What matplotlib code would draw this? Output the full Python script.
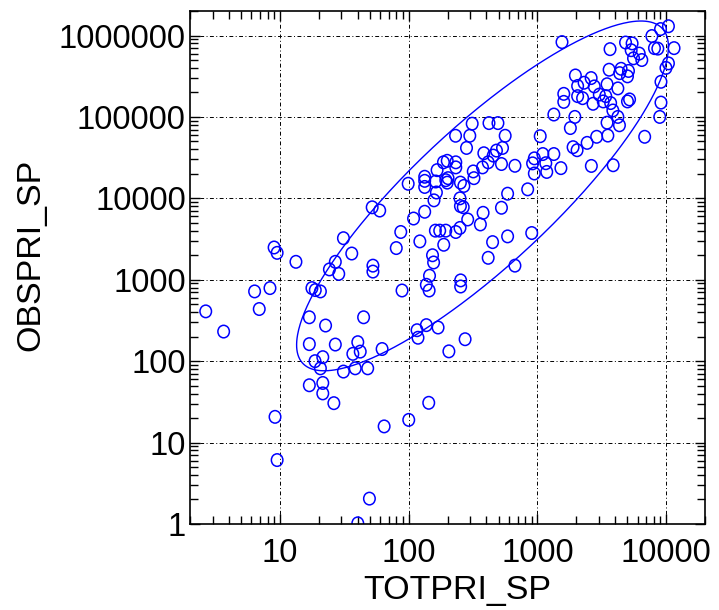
import numpy as np
import matplotlib
matplotlib.use("Agg")
import matplotlib.pyplot as plt
from matplotlib.collections import EllipseCollection
from matplotlib.ticker import LogLocator, NullFormatter

plt.rcParams['font.family'] = ['Liberation Sans', 'DejaVu Sans']

# values
totpri = [1550, 3660, 4830, 5430, 5340, 6170, 6460, 5570, 7730, 10400,
          9030, 8100, 8600, 11500, 10400, 9950, 9100, 9100, 8900, 6800,
          3600, 4460, 4350, 5090, 5000, 1970, 2610, 2300, 2050, 3470,
          2760, 4210, 1600, 1600, 2050, 2240, 3020, 3390, 2700, 3240,
          3700, 3850, 5190, 5000, 4210, 1340, 1950, 1800, 3470, 4330,
          3520, 2880, 2430, 1890, 2030, 1050, 1100, 1340, 1160, 945,
          1520, 2620, 3870, 1180, 945, 916,
          311, 420, 493, 231, 298, 561, 281, 535, 480, 453,
          383, 414, 525, 668, 199, 186, 232, 232, 166, 133,
          133, 133, 162, 202, 199, 194, 252, 268, 317, 321,
          374, 164, 157, 99, 250, 252, 265, 586, 525, 378,
          287, 360, 250, 232, 194, 174, 161, 133, 109, 86.7,
          122, 187, 448, 586, 902, 414, 80, 153, 156, 52.7,
          52.7, 668, 52, 59.5, 145, 253, 839,
          9.0, 9.5, 13.3, 31.1, 36.1, 26.9, 24.2, 28.6, 17.7, 18.8,
          20.6, 6.35, 8.36, 6.9, 2.65, 3.65, 16.9, 22.6, 16.9, 26.9,
          40.2, 42, 36.8, 21.5, 18.7, 44.6,
          20.6, 31.1, 38.4, 48, 16.9, 21.5, 21.5, 26.2, 9.15, 9.5,
          49.5, 40.2,
          253, 137, 144, 88.7, 62.1, 116, 137, 169, 118, 274,
          205, 143, 100, 64.4]
obspri = [830000, 680000, 820000, 800000, 660000, 600000, 500000, 525000, 985000, 1300000,
          1200000, 700000, 690000, 700000, 455000, 400000, 270000, 150000, 100000, 57000,
          380000, 390000, 345000, 367000, 315000, 323000, 300000, 263000, 240000, 252000,
          237000, 224000, 192000, 153000, 180000, 170000, 188000, 180000, 145000, 155000,
          148000, 120000, 164000, 155000, 100000, 107000, 100000, 73000, 85000, 79000,
          59000, 57000, 48000, 42500, 39000, 58000, 35000, 35000, 27000, 31000,
          23500, 25000, 25500, 21100, 20200, 26900,
          82600, 84000, 84000, 58700, 58700, 58700, 41600, 41600, 38600, 33500,
          35800, 27700, 26400, 25100, 28900, 27700, 27700, 24000, 22200, 18400,
          16400, 13800, 16100, 17700, 15600, 16700, 15600, 14200, 21400, 17700,
          24000, 11800, 9450, 15100, 10000, 8040, 7780, 11400, 7660, 6640,
          5500, 4780, 4330, 3860, 4010, 4010, 4010, 6840, 5650, 3860,
          2960, 2690, 2900, 3410, 3750, 1860, 2450, 2000, 1630, 1490,
          1260, 1490, 7760, 7080, 1120, 982, 12900,
          2490, 2140, 1660, 3240, 2100, 1660, 1340, 1180, 790, 747,
          719, 719, 790, 437, 409, 231, 346, 274, 162, 160,
          171, 131, 123, 112, 100, 346,
          81.7, 74.5, 81.7, 81.7, 50.6, 54, 40.2, 30.5, 20.7, 6.1,
          2.05, 1.02,
          826, 867, 738, 738, 141, 240, 277, 259, 194, 186,
          132, 30.8, 19, 15.8]

# confidence ellipse in log10 space: centre and covariance
ell_center = [2.573, 4.03]
ell_cov = [[2.085, 2.643], [2.643, 4.614]]

xticks = [10, 100, 1000, 10000]
yticks = [1, 10, 100, 1000, 10000, 100000, 1000000]

fig = plt.figure(figsize=(7.19, 6.10), dpi=100)
ax = fig.add_axes([190 / 719, 86 / 610, 515 / 719, 513 / 610])
ax.set_xscale('log')
ax.set_yscale('log')
ax.set_xlim(2, 20000)
ax.set_ylim(1, 2e6)

ax.grid(True, which='major', color='black', linestyle=(0, (4, 2.5, 1, 2.5)), linewidth=0.7)
ax.set_axisbelow(True)

offs = np.column_stack([totpri, obspri])
n = len(totpri)
ec = EllipseCollection(np.full(n, 11.5), np.full(n, 12.5), np.zeros(n), units='dots',
                       offsets=offs, offset_transform=ax.transData,
                       facecolors='none', edgecolors='#0000ff', linewidths=1.1)
ax.add_collection(ec)

# ellipse outline
t = np.linspace(0, 2 * np.pi, 400)
L = np.linalg.cholesky(np.array(ell_cov))
pts = np.array(ell_center)[:, None] + L @ np.vstack([np.cos(t), np.sin(t)])
ax.plot(10 ** pts[0], 10 ** pts[1], color='#0000ff', linewidth=1.0)

ax.set_xticks(xticks, labels=[str(v) for v in xticks])
ax.set_yticks(yticks, labels=[str(v) for v in yticks])
ax.xaxis.set_minor_locator(LogLocator(base=10, subs=np.arange(2, 10), numticks=20))
ax.yaxis.set_minor_locator(LogLocator(base=10, subs=np.arange(2, 10), numticks=20))
ax.xaxis.set_minor_formatter(NullFormatter())
ax.yaxis.set_minor_formatter(NullFormatter())
ax.tick_params(which='both', direction='in', top=True, right=True, width=1.0, color='black')
ax.tick_params(which='major', length=7, labelsize=23.5)
ax.tick_params(which='minor', length=5.5)
ax.tick_params(axis='x', which='major', pad=10)
ax.tick_params(axis='y', which='major', pad=3)
for sp in ax.spines.values():
    sp.set_linewidth(1.2)

ax.set_xlabel('TOTPRI_SP', fontsize=24.5)
ax.xaxis.set_label_coords(0.518, -0.100)
ax.set_ylabel('OBSPRI_SP', fontsize=24.5)
ax.yaxis.set_label_coords(-0.278, 0.524)

fig.savefig('out.png', dpi=100)
